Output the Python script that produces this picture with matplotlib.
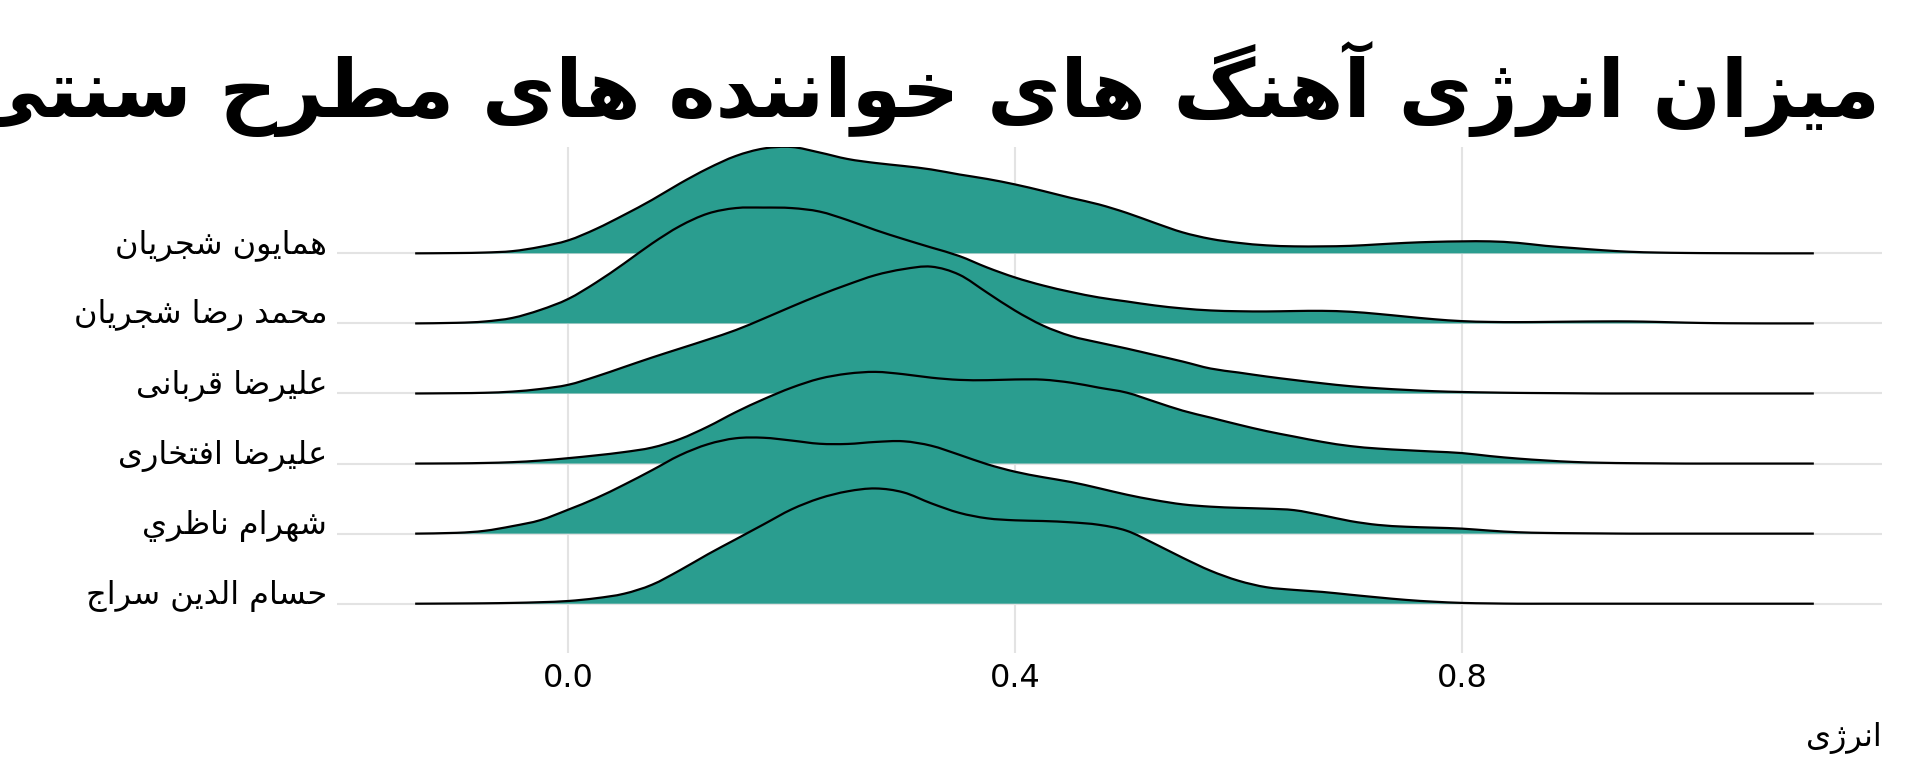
import numpy as np
import matplotlib
matplotlib.use("Agg")
import matplotlib.pyplot as plt
from matplotlib.path import Path
from matplotlib.patches import PathPatch

# --- data (energy density per singer) ---
singers = [
    "همایون شجریان",
    "محمد رضا شجریان",
    "علیرضا قربانی",
    "علیرضا افتخاری",
    "شهرام ناظري",
    "حسام الدین سراج",
]

# sample positions on the energy axis
energy = np.r_[-0.137, np.arange(-0.1, 1.1001, 0.025), 1.115]

# relative densities (arbitrary units), same length as energy
homayoun = [0, 0.3, 0.8, 2.2, 6.5, 13, 24.5, 38.5, 53.5, 70, 85, 97.5, 105, 106.5, 101,
            94.5, 90.5, 87.5, 84, 79, 74.5, 69, 62.5, 55.5, 49, 40.5, 30.5, 21, 14.5, 10.5,
            8, 7, 7, 7.5, 9, 10.5, 11.5, 12, 12, 10.5, 7.5, 5.3, 3.2, 1.6, 0.8,
            0.4, 0.2, 0.1, 0, 0, 0]
mohammadreza = [0, 0.6, 1.9, 5.5, 13.5, 24.5, 41, 60, 80, 97.5, 110, 115.5, 116, 115.5, 112,
                103.5, 93.5, 84.5, 76, 67.5, 56, 46, 38, 31.5, 26, 22, 18, 15, 13, 12.2,
                12, 12.4, 12.6, 11.7, 9.5, 6.8, 4.2, 2.3, 1.5, 1.3, 1.5, 1.8, 2, 2, 1.5,
                0.8, 0.3, 0.1, 0, 0, 0]
ghorbani = [0, 0.3, 0.7, 1.9, 4.5, 8.7, 17, 26.5, 36, 45, 54, 63.5, 75, 87, 98.5,
            109, 118.5, 124.5, 127, 119, 101, 83, 68, 57.5, 51, 45, 38.5, 32, 25, 21,
            17, 13.5, 10.2, 7.3, 5.2, 3.6, 2.3, 1.5, 1, 0.6, 0.4, 0.2, 0, 0, 0,
            0, 0, 0, 0, 0, 0]
eftekhari = [0, 0.2, 0.6, 1.4, 3, 5.4, 8.2, 11.5, 16, 24.5, 37, 51.5, 64.5, 76, 85,
             90, 91.8, 89.5, 86, 83.8, 83.5, 84.2, 84, 81, 76, 71, 62, 53, 46, 39,
             32.5, 27, 21.7, 17.5, 15, 13.4, 12, 10.5, 7.5, 5, 3.1, 1.6, 0.8, 0.4, 0.2,
             0, 0, 0, 0, 0, 0]
nazeri = [0, 0.8, 2.8, 7.5, 13.5, 24, 35.5, 49, 63.5, 78.5, 89.5, 95.5, 96, 93.2, 90,
          89.8, 91.8, 92.5, 88, 79, 69.5, 62, 56.5, 51.7, 45.5, 39, 33.6, 29.3, 27, 25.8,
          25, 23.5, 18.4, 12.6, 8.7, 6.9, 6, 5, 3, 1.4, 0.7, 0.4, 0.2, 0, 0,
          0, 0, 0, 0, 0, 0]
seraj = [0, 0.2, 0.4, 0.8, 1.5, 2.7, 5.5, 10, 19, 33.5, 49.5, 64.5, 79.5, 94.5, 105.5,
         112.5, 115.4, 111.5, 100.5, 91, 85.5, 83.5, 82.8, 81.5, 79, 73, 60, 46, 33, 23,
         16.5, 13.8, 11.8, 9, 6.3, 3.8, 2, 0.8, 0.3, 0, 0, 0, 0, 0, 0,
         0, 0, 0, 0, 0, 0]

densities = [homayoun, mohammadreza, ghorbani, eftekhari, nazeri, seraj]
x_ticks = [0.0, 0.4, 0.8]

TITLE = "میزان انرژی آهنگ های خواننده های مطرح سنتی"
XLABEL = "انرژی"

FILL = "#2a9d8f"
GRID = "#e3e3e3"
OVERLAP = 1.81   # tallest ridge height, in rows
FS = 23

# --- minimal Arabic/Persian shaping (no reshaper lib available) ---
# letter -> (isolated, final, initial, medial); None = does not join forward
FORMS = {
    "ا": ("\uFE8D", "\uFE8E", None, None),
    "آ": ("\uFE81", "\uFE82", None, None),
    "ب": ("\uFE8F", "\uFE90", "\uFE91", "\uFE92"),
    "ت": ("\uFE95", "\uFE96", "\uFE97", "\uFE98"),
    "ج": ("\uFE9D", "\uFE9E", "\uFE9F", "\uFEA0"),
    "ح": ("\uFEA1", "\uFEA2", "\uFEA3", "\uFEA4"),
    "خ": ("\uFEA5", "\uFEA6", "\uFEA7", "\uFEA8"),
    "د": ("\uFEA9", "\uFEAA", None, None),
    "ر": ("\uFEAD", "\uFEAE", None, None),
    "ز": ("\uFEAF", "\uFEB0", None, None),
    "ژ": ("\uFB8A", "\uFB8B", None, None),
    "س": ("\uFEB1", "\uFEB2", "\uFEB3", "\uFEB4"),
    "ش": ("\uFEB5", "\uFEB6", "\uFEB7", "\uFEB8"),
    "ض": ("\uFEBD", "\uFEBE", "\uFEBF", "\uFEC0"),
    "ط": ("\uFEC1", "\uFEC2", "\uFEC3", "\uFEC4"),
    "ظ": ("\uFEC5", "\uFEC6", "\uFEC7", "\uFEC8"),
    "ع": ("\uFEC9", "\uFECA", "\uFECB", "\uFECC"),
    "ف": ("\uFED1", "\uFED2", "\uFED3", "\uFED4"),
    "ق": ("\uFED5", "\uFED6", "\uFED7", "\uFED8"),
    "گ": ("\uFB92", "\uFB93", "\uFB94", "\uFB95"),
    "ل": ("\uFEDD", "\uFEDE", "\uFEDF", "\uFEE0"),
    "م": ("\uFEE1", "\uFEE2", "\uFEE3", "\uFEE4"),
    "ن": ("\uFEE5", "\uFEE6", "\uFEE7", "\uFEE8"),
    "ه": ("\uFEE9", "\uFEEA", "\uFEEB", "\uFEEC"),
    "و": ("\uFEED", "\uFEEE", None, None),
    "ی": ("\uFBFC", "\uFBFD", "\uFBFE", "\uFBFF"),
    "ي": ("\uFEF1", "\uFEF2", "\uFEF3", "\uFEF4"),
}


def shape(text):
    out = []
    for i, c in enumerate(text):
        if c not in FORMS:
            out.append(c)
            continue
        prev = text[i - 1] if i > 0 else ""
        nxt = text[i + 1] if i + 1 < len(text) else ""
        join_prev = prev in FORMS and FORMS[prev][2] is not None
        join_next = FORMS[c][2] is not None and nxt in FORMS
        iso, fin, ini, med = FORMS[c]
        if join_prev and join_next:
            out.append(med)
        elif join_prev:
            out.append(fin)
        elif join_next:
            out.append(ini)
        else:
            out.append(iso)
    return "".join(reversed(out))


def smooth(x, y):
    # catmull-rom through the samples, as cubic bezier segments
    pts = np.column_stack([x, y])
    ext = np.vstack([pts[0], pts, pts[-1]])
    verts, codes = [pts[0]], [Path.MOVETO]
    for i in range(len(pts) - 1):
        p0, p1, p2, p3 = ext[i], ext[i + 1], ext[i + 2], ext[i + 3]
        verts += [p1 + (p2 - p0) / 6, p2 - (p3 - p1) / 6, p2]
        codes += [Path.CURVE4] * 3
    return verts, codes


plt.rcParams["font.family"] = ["DejaVu Sans"]

fig = plt.figure(figsize=(19.2, 7.68), dpi=100)
ax = fig.add_axes([0.1755, 0.1497, 0.8047, 0.6589])

peak = max(max(d) for d in densities)
n = len(singers)
for i, (name, d) in enumerate(zip(singers, densities)):
    base = n - 1 - i
    h = np.array(d) / peak * OVERLAP
    verts, codes = smooth(energy, base + h)
    area = Path(verts + [(energy[-1], base), (energy[0], base), (energy[0], base)],
                codes + [Path.LINETO, Path.LINETO, Path.CLOSEPOLY])
    ax.add_patch(PathPatch(area, facecolor=FILL, lw=0, zorder=2 + 2 * i))
    ax.add_patch(PathPatch(Path(verts, codes), fill=False, edgecolor="black",
                           lw=1.6, zorder=3 + 2 * i, capstyle="butt"))

ax.set_xlim(-0.207, 1.176)
ax.set_ylim(-0.704, n - 1 + OVERLAP * max(densities[0]) / peak)

ax.set_yticks(range(n))
ax.set_yticklabels([shape(s) for s in reversed(singers)], fontsize=FS)
for t in ax.get_yticklabels():
    t.set_verticalalignment("baseline")
ax.set_xticks(x_ticks)
ax.set_xticklabels([f"{v:.1f}" for v in x_ticks], fontsize=FS)
ax.tick_params(length=0, pad=7)
ax.grid(True, color=GRID, lw=1.5, zorder=0)
ax.set_axisbelow(True)
for sp in ax.spines.values():
    sp.set_visible(False)

ax.set_xlabel(shape(XLABEL), loc="right", fontsize=FS, labelpad=20)

fig.text(1880 / 1920, 1 - 117 / 768, shape(TITLE), ha="right", va="baseline",
         fontsize=57.5, fontweight="bold")

fig.savefig("out.png", dpi=100)
